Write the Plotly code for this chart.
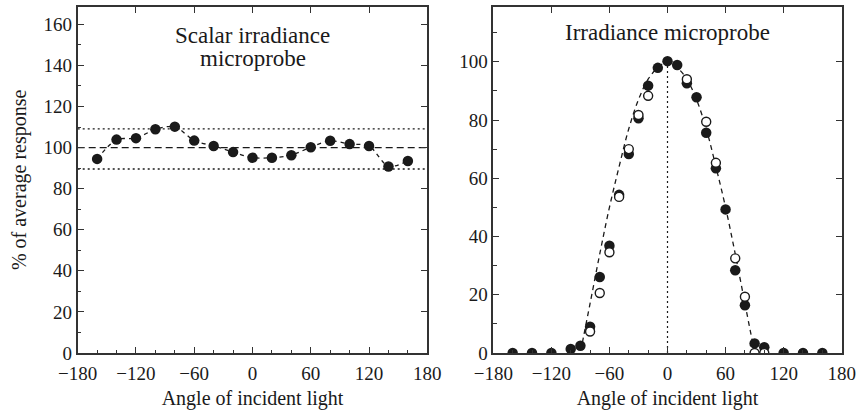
import plotly.graph_objects as go

# ---------------- data ----------------
# Left panel: scalar irradiance microprobe
scalar_angle = [-160, -140, -120, -100, -80, -60, -40, -20, 0, 20, 40, 60, 80, 100, 120, 140, 160]
scalar_resp = [94.5, 103.9, 104.6, 108.9, 110.2, 103.4, 100.8, 97.8, 95.1, 95.1, 96.3, 100.2, 103.3, 101.7, 100.8, 90.8, 93.5]
scalar_mean = 100
scalar_upper = 109.1
scalar_lower = 89.6

# Right panel: irradiance microprobe
irr_filled_angle = [-160, -140, -120, -100, -90, -80, -70, -60, -50, -40, -30, -20, -10, 0, 10,
                    20, 30, 40, 50, 60, 70, 80, 90, 100, 120, 140, 160]
irr_filled_resp = [0, 0, 0, 1.4, 2.5, 9.0, 26.1, 36.8, 54.3, 68.3, 80.6, 91.8, 97.9, 100.2, 98.9,
                   92.6, 87.8, 75.6, 63.4, 49.3, 28.4, 16.4, 3.3, 2.0, 0, 0, 0]
irr_open_angle = [-80, -70, -60, -50, -40, -30, -20, 20, 40, 50, 70, 80, 90, 100]
irr_open_resp = [7.4, 20.6, 34.6, 53.6, 70.0, 81.7, 88.3, 94.0, 79.4, 65.3, 32.5, 19.3, 0, 0]
# dashed reference (cosine-like) curve
cos_angle = [-88, -80, -70, -60, -50, -40, -30, -20, -10, 0, 10, 20, 30, 40, 50, 60, 70, 80, 88]
cos_resp = [3.5, 17, 34, 50, 64, 77, 87, 94, 98, 100, 98, 94, 87, 77, 64, 50, 34, 17, 3.5]

x_ticks = [-180, -120, -60, 0, 60, 120, 180]
left_y_ticks = [0, 20, 40, 60, 80, 100, 120, 140, 160]
right_y_ticks = [0, 20, 40, 60, 80, 100]

FONT = "Liberation Serif"
INK = "#1a1a1a"
AX = "#333333"

fig = go.Figure()

# ---- left panel ----
fig.add_trace(go.Scatter(x=scalar_angle, y=scalar_resp, mode="lines",
                         line=dict(color=INK, width=1.3, dash="4px,4px", shape="spline", smoothing=0.8),
                         xaxis="x", yaxis="y", showlegend=False, hoverinfo="skip"))
fig.add_trace(go.Scatter(x=scalar_angle, y=scalar_resp, mode="markers",
                         marker=dict(color=INK, size=10.5, line=dict(width=0)),
                         xaxis="x", yaxis="y", showlegend=False))

# ---- right panel ----
fig.add_trace(go.Scatter(x=[0, 0], y=[0, 99], mode="lines",
                         line=dict(color=INK, width=1.2, dash="2px,3px"),
                         xaxis="x2", yaxis="y2", showlegend=False, hoverinfo="skip"))
fig.add_trace(go.Scatter(x=cos_angle, y=cos_resp, mode="lines",
                         line=dict(color=INK, width=1.3, dash="5px,4px", shape="spline"),
                         xaxis="x2", yaxis="y2", showlegend=False, hoverinfo="skip"))
fig.add_trace(go.Scatter(x=irr_filled_angle, y=irr_filled_resp, mode="markers",
                         marker=dict(color=INK, size=10.5, line=dict(width=0)),
                         xaxis="x2", yaxis="y2", showlegend=False))
fig.add_trace(go.Scatter(x=irr_open_angle, y=irr_open_resp, mode="markers",
                         marker=dict(color="white", size=9, line=dict(color=INK, width=1.4)),
                         xaxis="x2", yaxis="y2", showlegend=False))

# dummy traces to activate mirror axes
for xa, ya in [("x3", "y"), ("x", "y3"), ("x4", "y2"), ("x2", "y4")]:
    fig.add_trace(go.Scatter(x=[], y=[], xaxis=xa, yaxis=ya, showlegend=False, hoverinfo="skip"))

W, H = 859, 412
xl = [77.7 / W, 427.3 / W]
xr = [493.3 / W, 841.7 / W]
yd = [1 - 353.0 / H, 1 - 6.7 / H]

tickfont = dict(family=FONT, size=19, color=INK)
titlefont = dict(family=FONT, size=20, color=INK)
common_x = dict(range=[-180, 180], tickvals=x_ticks, ticks="inside", ticklen=6, tickwidth=1.4,
                tickcolor=AX, showline=True, linecolor=AX, linewidth=1.6, mirror=True,
                showgrid=False, zeroline=False, tickfont=tickfont, automargin=False,
                ticklabelstandoff=2,
                minor=dict(dtick=20, tick0=0, ticks="inside", ticklen=3.5, tickwidth=1.2, tickcolor=AX))
common_y = dict(ticks="inside", ticklen=6, tickwidth=1.4, tickcolor=AX, showline=True, linecolor=AX,
                linewidth=1.6, mirror=True, showgrid=False, zeroline=False, tickfont=tickfont,
                automargin=False,
                minor=dict(dtick=10, tick0=0, ticks="inside", ticklen=3.5, tickwidth=1.2, tickcolor=AX))
mirror_common = dict(ticks="inside", ticklen=6, tickwidth=1.4, tickcolor=AX, showticklabels=False,
                     showline=False, showgrid=False, zeroline=False, automargin=False)

fig.update_layout(
    width=W, height=H, margin=dict(l=0, r=0, t=0, b=0, autoexpand=False),
    paper_bgcolor="white", plot_bgcolor="white",
    font=dict(family=FONT, color=INK),
    xaxis=dict(domain=xl, anchor="y",
               title=dict(text="Angle of incident light", font=titlefont, standoff=8), **common_x),
    xaxis2=dict(domain=xr, anchor="y2",
                title=dict(text="Angle of incident light", font=titlefont, standoff=8), **common_x),
    yaxis=dict(domain=yd, anchor="x", range=[0, 168.6], tickvals=left_y_ticks,
               title=dict(text="% of average response", font=titlefont, standoff=12), **common_y),
    yaxis2=dict(domain=yd, anchor="x2", range=[0, 118.9], tickvals=right_y_ticks, **common_y),
    # mirror axes with major ticks only (top / right)
    xaxis3=dict(overlaying="x", side="top", anchor="y", matches="x", range=[-180, 180], tickvals=x_ticks,
                **mirror_common),
    xaxis4=dict(overlaying="x2", side="top", anchor="y2", matches="x2", range=[-180, 180], tickvals=x_ticks,
                **mirror_common),
    yaxis3=dict(overlaying="y", side="right", anchor="x", matches="y", range=[0, 168.6],
                tickvals=left_y_ticks, **mirror_common),
    yaxis4=dict(overlaying="y2", side="right", anchor="x2", matches="y2", range=[0, 118.9],
                tickvals=right_y_ticks, **mirror_common),
)

# horizontal reference lines (left panel)
fig.add_shape(type="line", xref="x domain", yref="y", x0=0, x1=1, y0=scalar_mean, y1=scalar_mean,
              line=dict(color=INK, width=1.4, dash="7px,4px"), layer="below")
for yv in (scalar_upper, scalar_lower):
    fig.add_shape(type="line", xref="x domain", yref="y", x0=0, x1=1, y0=yv, y1=yv,
                  line=dict(color=INK, width=1.4, dash="2px,3px"), layer="below")

# panel titles
title_font = dict(family=FONT, size=23, color=INK)
fig.add_annotation(xref="x", yref="y", x=0, y=154.8, text="Scalar irradiance",
                   showarrow=False, font=title_font)
fig.add_annotation(xref="x", yref="y", x=0, y=143.4, text="microprobe",
                   showarrow=False, font=title_font)
fig.add_annotation(xref="x2", yref="y2", x=0, y=110.0, text="Irradiance microprobe",
                   showarrow=False, font=title_font)

# remove the default page margin so the figure sits at the window's top-left corner
fig.write_html("out.html", post_script="document.body.style.margin='0';",
               config={"displayModeBar": False})
